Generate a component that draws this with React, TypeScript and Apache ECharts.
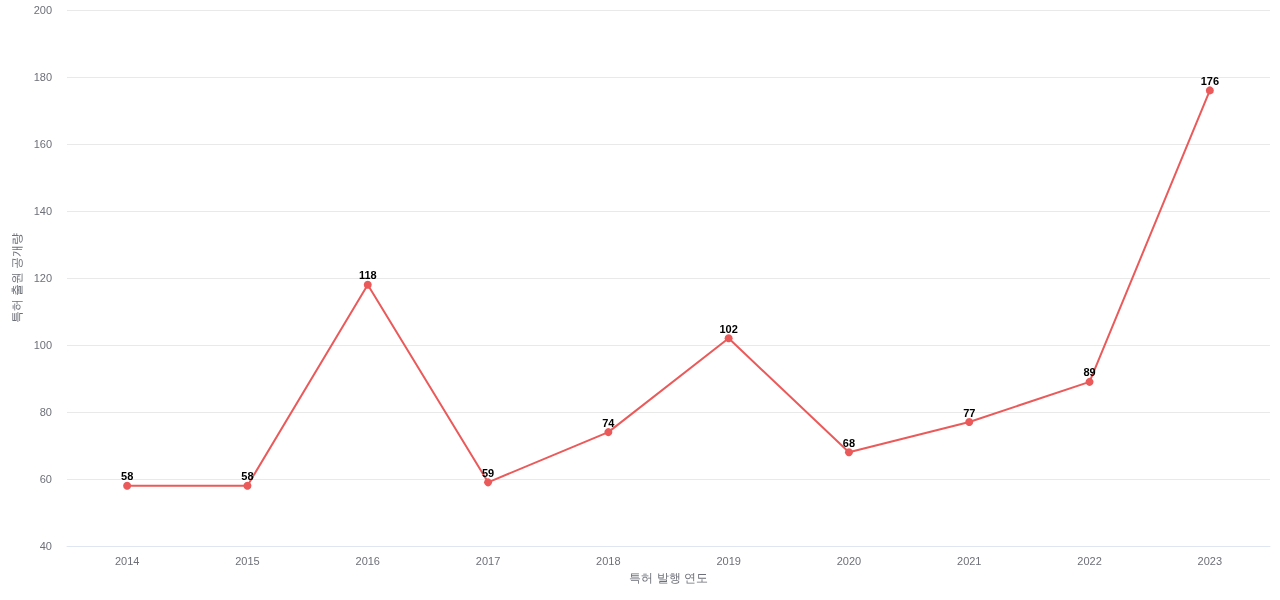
import React, { useEffect, useRef } from "react";
import * as echarts from "echarts";

const years = ["2014", "2015", "2016", "2017", "2018", "2019", "2020", "2021", "2022", "2023"];
const counts = [58, 58, 118, 59, 74, 102, 68, 77, 89, 176];
const xName = "특허 발행 연도";
const yName = "특허 출원 공개량";

export default function App() {
  const ref = useRef<HTMLDivElement>(null);
  useEffect(() => {
    if (!ref.current) return;
    const chart = echarts.init(ref.current, null, { renderer: "svg" });
    chart.setOption({
      animation: false,
      grid: { left: 67, right: 10, top: 10, bottom: 54, containLabel: false },
      xAxis: {
        type: "category",
        data: years,
        boundaryGap: true,
        name: xName,
        nameLocation: "middle",
        nameGap: 26,
        nameTextStyle: { color: "#6e7079", fontSize: 12 },
        axisLine: { show: true, lineStyle: { color: "#e0e6f1" } },
        axisTick: { show: false },
        axisLabel: { color: "#6e7079", fontSize: 11, margin: 9 },
      },
      yAxis: {
        type: "value",
        min: 40,
        max: 200,
        interval: 20,
        name: yName,
        nameLocation: "middle",
        nameGap: 34,
        nameTextStyle: { color: "#6e7079", fontSize: 12 },
        axisLine: { show: false },
        axisTick: { show: false },
        axisLabel: { color: "#6e7079", fontSize: 11, margin: 15 },
        splitLine: { lineStyle: { color: "#e9e9e9" } },
      },
      series: [
        {
          type: "line",
          data: counts,
          symbol: "circle",
          symbolSize: 8,
          itemStyle: { color: "#eb5a5a" },
          lineStyle: { color: "#eb5a5a", width: 2 },
          label: {
            show: true,
            position: "top",
            color: "#000",
            fontWeight: "bold",
            fontSize: 11,
            distance: 0,
          },
        },
      ],
    });
    return () => chart.dispose();
  }, []);
  return (
    <div
      ref={ref}
      style={{ position: "fixed", left: 0, top: 0, width: 1280, height: 600 }}
    />
  );
}
